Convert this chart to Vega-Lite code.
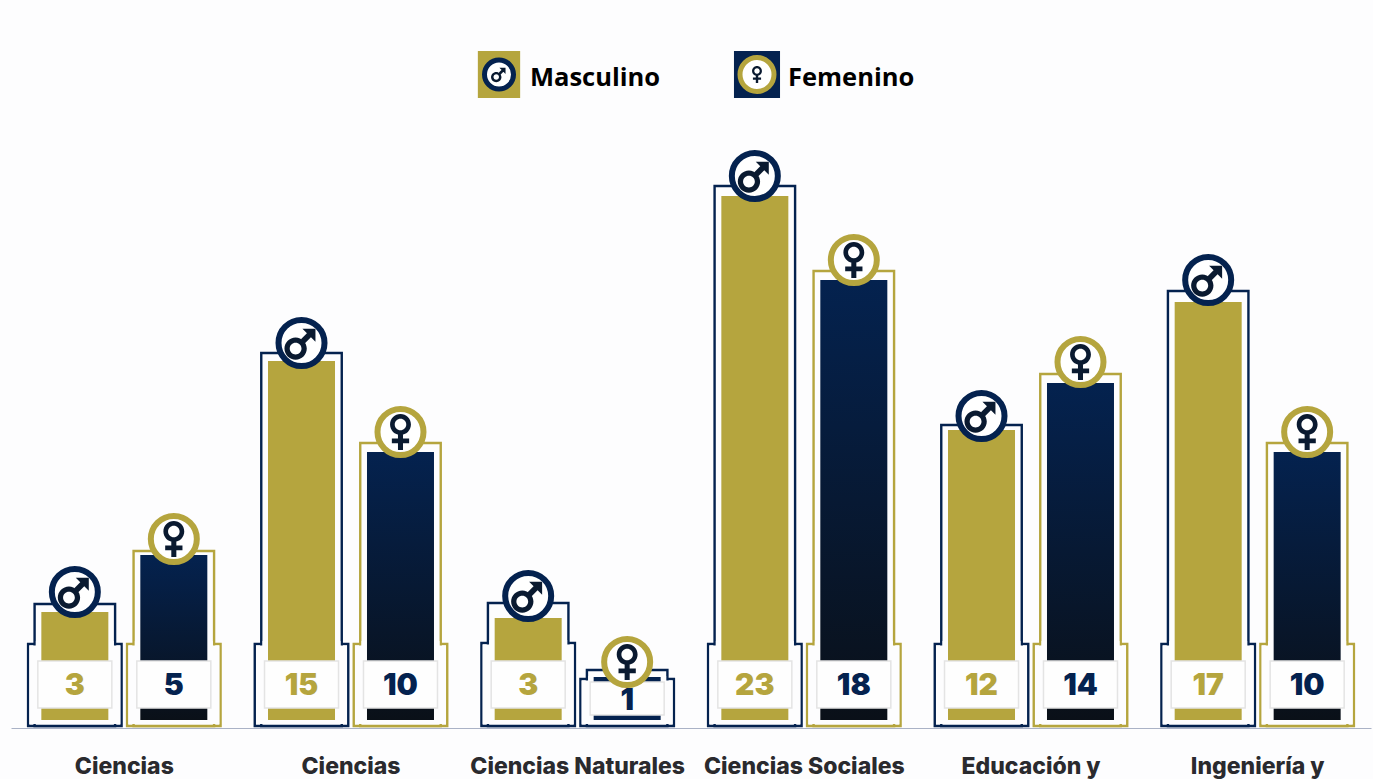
{"$schema":"https://vega.github.io/schema/vega-lite/v6.json","width":1360,"height":729,"autosize":{"type":"none"},"padding":{"left":11,"top":0,"right":2,"bottom":50},"background":"#fdfdfe","view":{"stroke":null},
"datasets":{"barras":[
{"categoria":"Ciencias","genero":"Masculino","valor":3,"largo":4.68,"marco":5.0,"icono":5.48,"escalon":3.4,"caja":2.72,"pie":0.84,"texto":1.74},
{"categoria":"Ciencias","genero":"Femenino","valor":5,"largo":6.96,"marco":7.12,"icono":7.6,"escalon":3.4,"caja":2.72,"pie":0.84,"texto":1.74},
{"categoria":"Ciencias ","genero":"Masculino","valor":15,"largo":14.72,"marco":15.04,"icono":15.44,"escalon":3.4,"caja":2.72,"pie":0.84,"texto":1.74},
{"categoria":"Ciencias ","genero":"Femenino","valor":10,"largo":11.08,"marco":11.44,"icono":11.88,"escalon":3.4,"caja":2.72,"pie":0.84,"texto":1.74},
{"categoria":"Ciencias Naturales","genero":"Masculino","valor":3,"largo":4.44,"marco":5.04,"icono":5.32,"escalon":3.44,"caja":2.72,"pie":0.84,"texto":1.74},
{"categoria":"Ciencias Naturales","genero":"Femenino","valor":1,"largo":2.08,"marco":2.36,"icono":2.68,"escalon":2.0,"caja":1.88,"pie":0.56,"texto":1.12},
{"categoria":"Ciencias Sociales","genero":"Masculino","valor":23,"largo":21.32,"marco":21.72,"icono":22.12,"escalon":3.4,"caja":2.72,"pie":0.84,"texto":1.74},
{"categoria":"Ciencias Sociales","genero":"Femenino","valor":18,"largo":17.96,"marco":18.32,"icono":18.76,"escalon":3.4,"caja":2.72,"pie":0.84,"texto":1.74},
{"categoria":"Educación y","genero":"Masculino","valor":12,"largo":11.96,"marco":12.16,"icono":12.52,"escalon":3.4,"caja":2.72,"pie":0.84,"texto":1.74},
{"categoria":"Educación y","genero":"Femenino","valor":14,"largo":13.84,"marco":14.2,"icono":14.68,"escalon":3.4,"caja":2.72,"pie":0.84,"texto":1.74},
{"categoria":"Ingeniería y","genero":"Masculino","valor":17,"largo":17.08,"marco":17.52,"icono":17.96,"escalon":3.4,"caja":2.72,"pie":0.84,"texto":1.74},
{"categoria":"Ingeniería y","genero":"Femenino","valor":10,"largo":11.08,"marco":11.44,"icono":11.88,"escalon":3.4,"caja":2.72,"pie":0.84,"texto":1.74}
],"leyenda":[{"genero":"Masculino","orden":1},{"genero":"Femenino","orden":2}]},
"resolve":{"scale":{"x":"independent","shape":"independent","size":"independent","stroke":"independent","fill":"independent"}},
"layer":[
{"data":{"name":"barras"},
"encoding":{
"x":{"field":"categoria","type":"nominal","sort":null,"scale":{"domain":["Ciencias","Ciencias ","Ciencias Naturales","Ciencias Sociales","Educación y","Ingeniería y"],"paddingInner":0,"paddingOuter":0},"axis":{"title":null,"ticks":false,"grid":false,"offset":-1,"domainColor":"#aab2c6","domainWidth":1,"labelAngle":0,"labelFont":"Inter","labelFontWeight":800,"labelFontSize":23,"labelColor":"#2a2a2e","labelPadding":27,"labelOverlap":false,"labelBound":false,"labelLimit":300}},
"xOffset":{"field":"genero","type":"nominal","scale":{"domain":["Masculino","Femenino"],"paddingInner":0,"paddingOuter":0.145}}
},
"layer":[
{"mark":{"type":"bar","width":93.5,"fill":"#fdfdfe","strokeWidth":2.4},"encoding":{"y":{"field":"escalon","type":"quantitative","scale":{"domain":[0,29.16],"nice":false,"zero":false},"axis":null},"y2":{"datum":0.12},"stroke":{"condition":{"test":"datum.valor === 1","value":"#04224f"},"field":"genero","type":"nominal","scale":{"domain":["Masculino","Femenino"],"range":["#04224f","#b5a53e"]},"legend":null}}},
{"mark":{"type":"bar","width":80.5,"fill":"#fdfdfe","strokeWidth":2.4},"encoding":{"y":{"field":"marco","type":"quantitative"},"y2":{"datum":0.12},"stroke":{"condition":{"test":"datum.valor === 1","value":"#04224f"},"field":"genero","type":"nominal","legend":null}}},
{"mark":{"type":"bar","width":78,"fill":"#fdfdfe","yOffset":-3,"y2Offset":-2},"encoding":{"y":{"field":"escalon","type":"quantitative"},"y2":{"datum":0.12}}},
{"mark":{"type":"bar","width":91,"fill":"#fdfdfe","yOffset":1.5,"y2Offset":-2},"encoding":{"y":{"field":"escalon","type":"quantitative"},"y2":{"datum":0.12}}},
{"transform":[{"filter":"datum.genero === 'Masculino'"}],"mark":{"type":"bar","width":67,"fill":"#b5a53e"},"encoding":{"y":{"field":"largo","type":"quantitative"},"y2":{"datum":0.36}}},
{"transform":[{"filter":"datum.genero === 'Femenino' && datum.valor > 1"}],"mark":{"type":"bar","width":67,"fill":{"gradient":"linear","x1":0,"y1":0,"x2":0,"y2":1,"stops":[{"offset":0,"color":"#04224f"},{"offset":1,"color":"#0a1018"}]}},"encoding":{"y":{"field":"largo","type":"quantitative"},"y2":{"datum":0.36}}},
{"transform":[{"filter":"datum.genero === 'Femenino' && datum.valor === 1"}],"mark":{"type":"bar","width":67,"fill":"#04224f"},"encoding":{"y":{"field":"largo","type":"quantitative"},"y2":{"datum":0.36}}},
{"mark":{"type":"bar","width":74,"fill":"#fefefe","stroke":"#e4e4e4","strokeWidth":1.5},"encoding":{"y":{"field":"caja","type":"quantitative"},"y2":{"field":"pie"}}},
{"mark":{"type":"text","font":"Inter","fontWeight":900,"fontSize":30,"baseline":"middle","align":"center"},"encoding":{"y":{"field":"texto","type":"quantitative"},"text":{"field":"valor","type":"quantitative"},"color":{"field":"genero","type":"nominal","scale":{"domain":["Masculino","Femenino"],"range":["#b5a53e","#04224f"]},"legend":null}}},
{"mark":{"type":"point","shape":"circle","filled":true,"fill":"#ffffff","opacity":1,"size":2116,"strokeWidth":6},"encoding":{"y":{"field":"icono","type":"quantitative"},"stroke":{"field":"genero","type":"nominal","legend":null}}},
{"mark":{"type":"point","filled":true,"opacity":1,"fill":"#0a1a30","strokeWidth":0},"encoding":{"y":{"field":"icono","type":"quantitative"},"shape":{"field":"genero","type":"nominal","scale":{"domain":["Masculino","Femenino"],"range":["M-0.55,0.18A0.36,0.36 0 1 1 0.17,0.18A0.36,0.36 0 1 1 -0.55,0.18ZM-0.38,0.18A0.19,0.19 0 1 0 0,0.18A0.19,0.19 0 1 0 -0.38,0.18ZM-0.01,-0.13L0.19,-0.33L0.32,-0.2L0.12,0ZM0.03,-0.46L0.45,-0.46L0.45,-0.04Z","M-0.29,-0.21A0.29,0.29 0 1 1 0.29,-0.21A0.29,0.29 0 1 1 -0.29,-0.21ZM-0.16,-0.21A0.16,0.16 0 1 0 0.16,-0.21A0.16,0.16 0 1 0 -0.16,-0.21ZM-0.07,0.06L0.07,0.06L0.07,0.5L-0.07,0.5ZM-0.24,0.18L0.24,0.18L0.24,0.31L-0.24,0.31Z"]},"legend":null},"size":{"field":"genero","type":"nominal","scale":{"domain":["Masculino","Femenino"],"range":[3844,5184]},"legend":null}}}
]},
{"data":{"name":"leyenda"},
"resolve":{"scale":{"shape":"independent"}},
"encoding":{"x":{"field":"orden","type":"quantitative","scale":{"domain":[1,2],"range":[488,746],"nice":false,"zero":false},"axis":null}},
"layer":[
{"mark":{"type":"point","filled":true,"opacity":1,"size":2209,"strokeWidth":0},"encoding":{"y":{"datum":26.18},"shape":{"field":"genero","type":"nominal","scale":{"domain":["Masculino","Femenino"],"range":["M-0.9,-1L0.9,-1L0.9,1L-0.9,1Z","M-0.98,-1L0.98,-1L0.98,1L-0.98,1Z"]},"legend":null},"fill":{"field":"genero","type":"nominal","scale":{"domain":["Masculino","Femenino"],"range":["#b5a53e","#04224f"]},"legend":null}}},
{"mark":{"type":"point","shape":"circle","filled":true,"fill":"#ffffff","opacity":1,"strokeWidth":5},"encoding":{"y":{"datum":26.18},"stroke":{"field":"genero","type":"nominal","scale":{"domain":["Masculino","Femenino"],"range":["#04224f","#b5a53e"]},"legend":null},"size":{"field":"genero","type":"nominal","scale":{"domain":["Masculino","Femenino"],"range":[841,1156]},"legend":null}}},
{"mark":{"type":"point","filled":true,"opacity":1,"fill":"#0a1a30","strokeWidth":0},"encoding":{"y":{"datum":26.18},"shape":{"field":"genero","type":"nominal","scale":{"domain":["Masculino","Femenino"],"range":["M-0.55,0.18A0.36,0.36 0 1 1 0.17,0.18A0.36,0.36 0 1 1 -0.55,0.18ZM-0.38,0.18A0.19,0.19 0 1 0 0,0.18A0.19,0.19 0 1 0 -0.38,0.18ZM-0.01,-0.13L0.19,-0.33L0.32,-0.2L0.12,0ZM0.03,-0.46L0.45,-0.46L0.45,-0.04Z","M-0.29,-0.21A0.29,0.29 0 1 1 0.29,-0.21A0.29,0.29 0 1 1 -0.29,-0.21ZM-0.16,-0.21A0.16,0.16 0 1 0 0.16,-0.21A0.16,0.16 0 1 0 -0.16,-0.21ZM-0.07,0.06L0.07,0.06L0.07,0.5L-0.07,0.5ZM-0.24,0.18L0.24,0.18L0.24,0.31L-0.24,0.31Z"]},"legend":null},"size":{"field":"genero","type":"nominal","scale":{"domain":["Masculino","Femenino"],"range":[2100,3000]},"legend":null}}},
{"mark":{"type":"text","font":"Open Sans","fontWeight":700,"fontSize":25.5,"align":"left","baseline":"middle","dx":31,"color":"#000000"},"encoding":{"y":{"datum":26.04},"text":{"field":"genero","type":"nominal"}}}
]}
]}
